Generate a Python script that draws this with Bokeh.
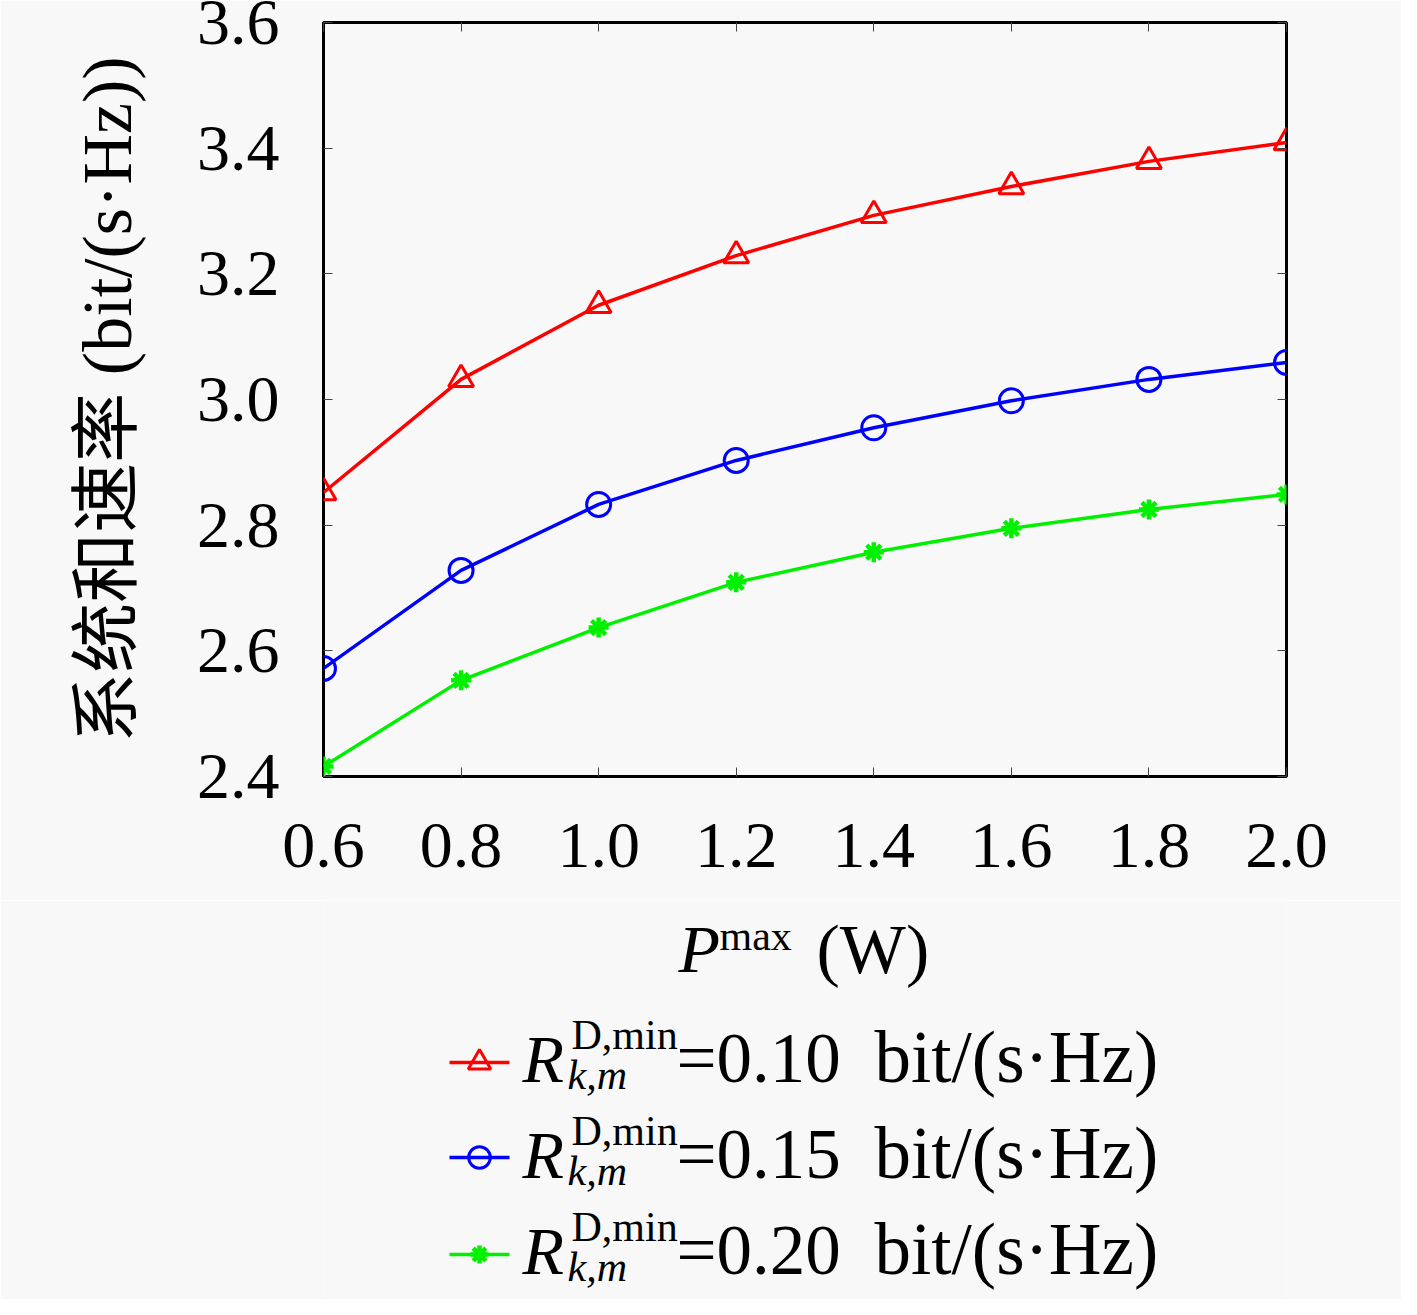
from bokeh.plotting import figure
from bokeh.models import Range1d, FixedTicker, LinearAxis, ColumnDataSource
from bokeh.layouts import column
from bokeh.core.properties import value
from bokeh.embed import file_html
from bokeh.resources import INLINE

# ---------------- data ----------------
p_max = [0.6, 0.8, 1.0, 1.2, 1.4, 1.6, 1.8, 2.0]
rate_r010 = [2.852, 3.032, 3.150, 3.229, 3.293, 3.339, 3.379, 3.409]
rate_r015 = [2.572, 2.728, 2.833, 2.903, 2.955, 2.998, 3.032, 3.059]
rate_r020 = [2.416, 2.553, 2.637, 2.709, 2.757, 2.795, 2.825, 2.849]
series_values = ["0.10", "0.15", "0.20"]
x_ticks = [0.6, 0.8, 1.0, 1.2, 1.4, 1.6, 1.8, 2.0]
x_tick_labels = ["0.6", "0.8", "1.0", "1.2", "1.4", "1.6", "1.8", "2.0"]
y_ticks = [2.4, 2.6, 2.8, 3.0, 3.2, 3.4, 3.6]
y_tick_labels = ["2.4", "2.6", "2.8", "3.0", "3.2", "3.4", "3.6"]
y_label = "系统和速率 (bit/(s·Hz))"
unit_text = "bit/(s·Hz)"

# ---------------- style ----------------
BG = "#f8f8f8"
SERIF = "'Liberation Serif', 'Noto Sans CJK SC'"
colors = ["#ff0000", "#0000ff", "#00f000"]
markers = ["triangle", "circle", "asterisk"]
msizes = [25, 24, 20]
mwidths = [3, 3, 4.5]
series = [rate_r010, rate_r015, rate_r020]

W = 1401
H1 = 900
H2 = 399
FL, FR = 331, 1294   # frame left/right in page pixels

p = figure(width=W, height=H1, x_range=Range1d(0.6, 2.0), y_range=Range1d(2.4, 3.6),
           output_backend="svg", toolbar_location=None,
           min_border_left=323, min_border_right=115, min_border_top=22, min_border_bottom=124,
           background_fill_color=BG, border_fill_color=BG)
p.grid.visible = False
p.outline_line_color = "black"
p.outline_line_width = 3

def style_axis(ax, ticks, labels, show_labels):
    ax.ticker = FixedTicker(ticks=ticks)
    ax.major_label_overrides = {t: l for t, l in zip(ticks, labels)}
    ax.axis_line_color = None
    ax.major_tick_in = 9
    ax.major_tick_out = 0
    ax.major_tick_line_color = "#444444"
    ax.major_tick_line_width = 1
    ax.minor_tick_line_color = None
    ax.major_label_text_font = SERIF
    if show_labels:
        ax.major_label_text_color = "black"
        ax.major_label_text_font_size = "66px"
    else:
        ax.major_label_text_color = None
        ax.major_label_text_font_size = "8px"
        ax.major_label_standoff = 0

xa = p.xaxis[0]
ya = p.yaxis[0]
style_axis(xa, x_ticks, x_tick_labels, True)
style_axis(ya, y_ticks, y_tick_labels, True)
xa.major_label_standoff = 47
ya.major_label_standoff = 44
ya.axis_label = y_label
ya.axis_label_text_font = SERIF
ya.axis_label_text_font_size = "70px"
ya.axis_label_text_font_style = "normal"
ya.axis_label_text_color = "black"
ya.axis_label_standoff = 48

top_ax = LinearAxis()
right_ax = LinearAxis()
style_axis(top_ax, x_ticks, x_tick_labels, False)
style_axis(right_ax, y_ticks, y_tick_labels, False)
p.add_layout(top_ax, "above")
p.add_layout(right_ax, "right")

for vals, c, m, s, lw in zip(series, colors, markers, msizes, mwidths):
    src = ColumnDataSource(dict(x=p_max, y=vals))
    p.line("x", "y", source=src, line_color=c, line_width=3.5)
    p.scatter("x", "y", source=src, marker=m, size=s, line_color=c, line_width=lw,
              fill_color=None)

# ---------------- x label + legend panel ----------------
q = figure(width=W, height=H2, x_range=Range1d(FL, FR), y_range=Range1d(0, H2),
           output_backend="svg", toolbar_location=None,
           min_border_left=323, min_border_right=115, min_border_top=0, min_border_bottom=0,
           x_axis_type=None, y_axis_type=None,
           background_fill_color=BG, border_fill_color=BG)
q.grid.visible = False
q.outline_line_color = None

def fy(page_y):
    return 8 + H1 + H2 - page_y

def txt(x, baseline_y, s, size, italic=False):
    # empirical correction of the rendered alphabetic baseline
    y_draw = baseline_y - 0.335 * size
    q.text(x=[x], y=[fy(y_draw)], text=[s], text_font=value("Liberation Serif"),
           text_font_style="italic" if italic else "normal", text_font_size="%dpx" % size,
           text_color="black", text_baseline="alphabetic", text_align="left")

# x axis label  P^max (W)
txt(686, 979, "P", 68, italic=True)
txt(727, 958, "max", 42)
txt(824, 980, "(W)", 70)

row_line_y = [1070, 1165, 1262]
row_base_y = [1089, 1185, 1281]
for i, (v, c, m, s, lw) in enumerate(zip(series_values, colors, markers, msizes, mwidths)):
    ly = fy(row_line_y[i])
    q.line([457, 517], [ly, ly], line_color=c, line_width=3.5)
    q.scatter([487], [ly], marker=m, size=s * 0.9, line_color=c, line_width=lw, fill_color=None)
    by = row_base_y[i]
    txt(530, by, "R", 68, italic=True)
    txt(579, by - 32, "D,min", 42)
    txt(575, by + 8, "k,m", 42, italic=True)
    txt(684, by, "=" + v, 71)
    txt(882, by, unit_text, 73)

layout = column(p, q, spacing=0)
open("out.html", "w").write(file_html(layout, INLINE))
